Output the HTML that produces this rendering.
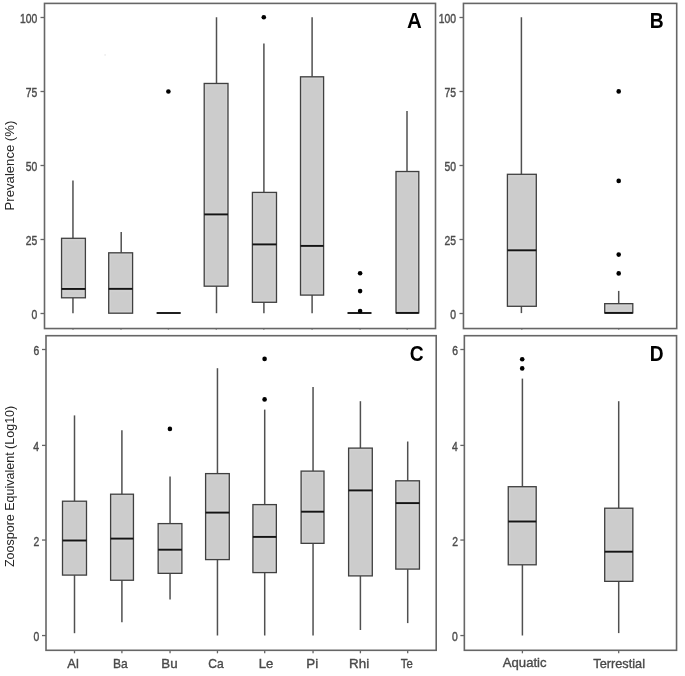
<!DOCTYPE html>
<html><head><meta charset="utf-8"><style>
html,body{margin:0;padding:0;background:#fff;width:685px;height:676px;overflow:hidden}
svg{display:block;will-change:transform}
</style></head><body>
<svg width="685" height="676" viewBox="0 0 685 676">
<style>
text{font-family:"Liberation Sans",sans-serif}
.pb{fill:none;stroke:#666666;stroke-width:1.6}
.tk{stroke:#666666;stroke-width:1.3}
.wk{stroke:#505050;stroke-width:1.5}
.bx{fill:none;stroke:#404040;stroke-width:1.3}
.md{stroke:#141414;stroke-width:1.9}
.pt{fill:#000}
.rg{fill:none;stroke:#d3d3d3;stroke-width:0.9}
.yl{fill:#4d4d4d;stroke:#4a4a4a;stroke-width:0.4px}
.xl{fill:#4d4d4d;stroke:#444;stroke-width:0.35px}
.ttl{fill:#262626}
.tag{font-weight:bold;fill:#000}
</style>
<rect width="685" height="676" fill="#fff"/>
<circle cx="105.1" cy="54.9" r="0.9" fill="#ececec"/>
<line x1="72.95" y1="180.40" x2="72.95" y2="238.30" class="wk"/>
<line x1="72.95" y1="297.80" x2="72.95" y2="313.20" class="wk"/>
<rect x="61.55" y="238.30" width="23.85" height="59.50" fill="#cccccc"/>
<rect x="63.15" y="239.90" width="20.65" height="56.30" class="rg"/>
<line x1="62.55" y1="286.85" x2="84.40" y2="286.85" class="rg"/>
<line x1="62.55" y1="291.05" x2="84.40" y2="291.05" class="rg"/>
<rect x="61.55" y="238.30" width="23.85" height="59.50" class="bx" fill="none"/>
<line x1="61.55" y1="288.95" x2="85.40" y2="288.95" class="md"/>
<line x1="121.20" y1="232.10" x2="121.20" y2="252.80" class="wk"/>
<rect x="108.70" y="252.80" width="23.90" height="60.40" fill="#cccccc"/>
<rect x="110.30" y="254.40" width="20.70" height="57.20" class="rg"/>
<line x1="109.70" y1="286.75" x2="131.60" y2="286.75" class="rg"/>
<line x1="109.70" y1="290.95" x2="131.60" y2="290.95" class="rg"/>
<rect x="108.70" y="252.80" width="23.90" height="60.40" class="bx" fill="none"/>
<line x1="108.70" y1="288.85" x2="132.60" y2="288.85" class="md"/>
<rect x="156.60" y="313.00" width="24.10" height="0.00" fill="#cccccc"/>
<rect x="156.60" y="313.00" width="24.10" height="0.00" class="bx" fill="none"/>
<line x1="156.60" y1="313.00" x2="180.70" y2="313.00" class="md"/>
<circle cx="168.40" cy="91.55" r="2.3" class="pt"/>
<line x1="216.50" y1="17.25" x2="216.50" y2="83.45" class="wk"/>
<line x1="216.50" y1="286.20" x2="216.50" y2="313.20" class="wk"/>
<rect x="204.20" y="83.45" width="23.80" height="202.75" fill="#cccccc"/>
<rect x="205.80" y="85.05" width="20.60" height="199.55" class="rg"/>
<line x1="205.20" y1="212.30" x2="227.00" y2="212.30" class="rg"/>
<line x1="205.20" y1="216.50" x2="227.00" y2="216.50" class="rg"/>
<rect x="204.20" y="83.45" width="23.80" height="202.75" class="bx" fill="none"/>
<line x1="204.20" y1="214.40" x2="228.00" y2="214.40" class="md"/>
<line x1="263.90" y1="43.60" x2="263.90" y2="192.40" class="wk"/>
<line x1="263.90" y1="302.30" x2="263.90" y2="313.20" class="wk"/>
<rect x="252.40" y="192.40" width="24.10" height="109.90" fill="#cccccc"/>
<rect x="254.00" y="194.00" width="20.90" height="106.70" class="rg"/>
<line x1="253.40" y1="242.30" x2="275.50" y2="242.30" class="rg"/>
<line x1="253.40" y1="246.50" x2="275.50" y2="246.50" class="rg"/>
<rect x="252.40" y="192.40" width="24.10" height="109.90" class="bx" fill="none"/>
<line x1="252.40" y1="244.40" x2="276.50" y2="244.40" class="md"/>
<circle cx="263.80" cy="17.30" r="2.3" class="pt"/>
<line x1="312.10" y1="17.25" x2="312.10" y2="76.80" class="wk"/>
<line x1="312.10" y1="295.10" x2="312.10" y2="313.20" class="wk"/>
<rect x="300.50" y="76.80" width="23.10" height="218.30" fill="#cccccc"/>
<rect x="302.10" y="78.40" width="19.90" height="215.10" class="rg"/>
<line x1="301.50" y1="243.80" x2="322.60" y2="243.80" class="rg"/>
<line x1="301.50" y1="248.00" x2="322.60" y2="248.00" class="rg"/>
<rect x="300.50" y="76.80" width="23.10" height="218.30" class="bx" fill="none"/>
<line x1="300.50" y1="245.90" x2="323.60" y2="245.90" class="md"/>
<rect x="347.50" y="313.00" width="24.00" height="0.00" fill="#cccccc"/>
<rect x="347.50" y="313.00" width="24.00" height="0.00" class="bx" fill="none"/>
<line x1="347.50" y1="313.00" x2="371.50" y2="313.00" class="md"/>
<circle cx="360.10" cy="273.30" r="2.3" class="pt"/>
<circle cx="360.10" cy="291.10" r="2.3" class="pt"/>
<circle cx="360.10" cy="311.10" r="2.3" class="pt"/>
<line x1="407.00" y1="110.90" x2="407.00" y2="171.50" class="wk"/>
<rect x="396.00" y="171.50" width="22.80" height="141.40" fill="#cccccc"/>
<rect x="397.60" y="173.10" width="19.60" height="138.20" class="rg"/>
<line x1="397.00" y1="310.80" x2="417.80" y2="310.80" class="rg"/>
<rect x="396.00" y="171.50" width="22.80" height="141.40" class="bx" fill="none"/>
<line x1="396.00" y1="312.90" x2="418.80" y2="312.90" class="md"/>
<line x1="521.40" y1="17.25" x2="521.40" y2="174.30" class="wk"/>
<line x1="521.40" y1="306.30" x2="521.40" y2="313.10" class="wk"/>
<rect x="507.40" y="174.30" width="28.90" height="132.00" fill="#cccccc"/>
<rect x="509.00" y="175.90" width="25.70" height="128.80" class="rg"/>
<line x1="508.40" y1="248.20" x2="535.30" y2="248.20" class="rg"/>
<line x1="508.40" y1="252.40" x2="535.30" y2="252.40" class="rg"/>
<rect x="507.40" y="174.30" width="28.90" height="132.00" class="bx" fill="none"/>
<line x1="507.40" y1="250.30" x2="536.30" y2="250.30" class="md"/>
<line x1="618.70" y1="290.90" x2="618.70" y2="303.65" class="wk"/>
<rect x="604.70" y="303.65" width="28.10" height="9.25" fill="#cccccc"/>
<rect x="606.30" y="305.25" width="24.90" height="6.05" class="rg"/>
<line x1="605.70" y1="310.80" x2="631.80" y2="310.80" class="rg"/>
<rect x="604.70" y="303.65" width="28.10" height="9.25" class="bx" fill="none"/>
<line x1="604.70" y1="312.90" x2="632.80" y2="312.90" class="md"/>
<circle cx="618.70" cy="91.40" r="2.3" class="pt"/>
<circle cx="618.70" cy="180.90" r="2.3" class="pt"/>
<circle cx="618.70" cy="254.60" r="2.3" class="pt"/>
<circle cx="618.70" cy="273.40" r="2.3" class="pt"/>
<line x1="74.50" y1="415.40" x2="74.50" y2="501.20" class="wk"/>
<line x1="74.50" y1="575.10" x2="74.50" y2="633.20" class="wk"/>
<rect x="62.50" y="501.20" width="24.00" height="73.90" fill="#cccccc"/>
<rect x="64.10" y="502.80" width="20.80" height="70.70" class="rg"/>
<line x1="63.50" y1="538.40" x2="85.50" y2="538.40" class="rg"/>
<line x1="63.50" y1="542.60" x2="85.50" y2="542.60" class="rg"/>
<rect x="62.50" y="501.20" width="24.00" height="73.90" class="bx" fill="none"/>
<line x1="62.50" y1="540.50" x2="86.50" y2="540.50" class="md"/>
<line x1="121.90" y1="430.30" x2="121.90" y2="494.20" class="wk"/>
<line x1="121.90" y1="580.25" x2="121.90" y2="622.20" class="wk"/>
<rect x="110.60" y="494.20" width="22.85" height="86.05" fill="#cccccc"/>
<rect x="112.20" y="495.80" width="19.65" height="82.85" class="rg"/>
<line x1="111.60" y1="536.50" x2="132.45" y2="536.50" class="rg"/>
<line x1="111.60" y1="540.70" x2="132.45" y2="540.70" class="rg"/>
<rect x="110.60" y="494.20" width="22.85" height="86.05" class="bx" fill="none"/>
<line x1="110.60" y1="538.60" x2="133.45" y2="538.60" class="md"/>
<line x1="170.05" y1="476.60" x2="170.05" y2="523.60" class="wk"/>
<line x1="170.05" y1="573.35" x2="170.05" y2="599.60" class="wk"/>
<rect x="158.15" y="523.60" width="23.75" height="49.75" fill="#cccccc"/>
<rect x="159.75" y="525.20" width="20.55" height="46.55" class="rg"/>
<line x1="159.15" y1="547.60" x2="180.90" y2="547.60" class="rg"/>
<line x1="159.15" y1="551.80" x2="180.90" y2="551.80" class="rg"/>
<rect x="158.15" y="523.60" width="23.75" height="49.75" class="bx" fill="none"/>
<line x1="158.15" y1="549.70" x2="181.90" y2="549.70" class="md"/>
<circle cx="169.90" cy="428.90" r="2.3" class="pt"/>
<line x1="217.45" y1="368.20" x2="217.45" y2="473.60" class="wk"/>
<line x1="217.45" y1="559.60" x2="217.45" y2="635.50" class="wk"/>
<rect x="205.60" y="473.60" width="23.70" height="86.00" fill="#cccccc"/>
<rect x="207.20" y="475.20" width="20.50" height="82.80" class="rg"/>
<line x1="206.60" y1="510.50" x2="228.30" y2="510.50" class="rg"/>
<line x1="206.60" y1="514.70" x2="228.30" y2="514.70" class="rg"/>
<rect x="205.60" y="473.60" width="23.70" height="86.00" class="bx" fill="none"/>
<line x1="205.60" y1="512.60" x2="229.30" y2="512.60" class="md"/>
<line x1="264.70" y1="409.60" x2="264.70" y2="504.60" class="wk"/>
<line x1="264.70" y1="572.60" x2="264.70" y2="635.50" class="wk"/>
<rect x="252.90" y="504.60" width="23.45" height="68.00" fill="#cccccc"/>
<rect x="254.50" y="506.20" width="20.25" height="64.80" class="rg"/>
<line x1="253.90" y1="534.80" x2="275.35" y2="534.80" class="rg"/>
<line x1="253.90" y1="539.00" x2="275.35" y2="539.00" class="rg"/>
<rect x="252.90" y="504.60" width="23.45" height="68.00" class="bx" fill="none"/>
<line x1="252.90" y1="536.90" x2="276.35" y2="536.90" class="md"/>
<circle cx="264.60" cy="358.90" r="2.3" class="pt"/>
<circle cx="264.60" cy="399.40" r="2.3" class="pt"/>
<line x1="313.05" y1="387.10" x2="313.05" y2="471.10" class="wk"/>
<line x1="313.05" y1="543.35" x2="313.05" y2="635.50" class="wk"/>
<rect x="301.10" y="471.10" width="22.90" height="72.25" fill="#cccccc"/>
<rect x="302.70" y="472.70" width="19.70" height="69.05" class="rg"/>
<line x1="302.10" y1="509.60" x2="323.00" y2="509.60" class="rg"/>
<line x1="302.10" y1="513.80" x2="323.00" y2="513.80" class="rg"/>
<rect x="301.10" y="471.10" width="22.90" height="72.25" class="bx" fill="none"/>
<line x1="301.10" y1="511.70" x2="324.00" y2="511.70" class="md"/>
<line x1="360.40" y1="401.20" x2="360.40" y2="448.10" class="wk"/>
<line x1="360.40" y1="575.90" x2="360.40" y2="630.00" class="wk"/>
<rect x="348.60" y="448.10" width="23.70" height="127.80" fill="#cccccc"/>
<rect x="350.20" y="449.70" width="20.50" height="124.60" class="rg"/>
<line x1="349.60" y1="488.30" x2="371.30" y2="488.30" class="rg"/>
<line x1="349.60" y1="492.50" x2="371.30" y2="492.50" class="rg"/>
<rect x="348.60" y="448.10" width="23.70" height="127.80" class="bx" fill="none"/>
<line x1="348.60" y1="490.40" x2="372.30" y2="490.40" class="md"/>
<line x1="407.70" y1="441.50" x2="407.70" y2="480.80" class="wk"/>
<line x1="407.70" y1="569.10" x2="407.70" y2="623.10" class="wk"/>
<rect x="395.80" y="480.80" width="23.65" height="88.30" fill="#cccccc"/>
<rect x="397.40" y="482.40" width="20.45" height="85.10" class="rg"/>
<line x1="396.80" y1="501.00" x2="418.45" y2="501.00" class="rg"/>
<line x1="396.80" y1="505.20" x2="418.45" y2="505.20" class="rg"/>
<rect x="395.80" y="480.80" width="23.65" height="88.30" class="bx" fill="none"/>
<line x1="395.80" y1="503.10" x2="419.45" y2="503.10" class="md"/>
<line x1="522.40" y1="378.60" x2="522.40" y2="486.70" class="wk"/>
<line x1="522.40" y1="564.80" x2="522.40" y2="635.50" class="wk"/>
<rect x="508.25" y="486.70" width="27.95" height="78.10" fill="#cccccc"/>
<rect x="509.85" y="488.30" width="24.75" height="74.90" class="rg"/>
<line x1="509.25" y1="519.40" x2="535.20" y2="519.40" class="rg"/>
<line x1="509.25" y1="523.60" x2="535.20" y2="523.60" class="rg"/>
<rect x="508.25" y="486.70" width="27.95" height="78.10" class="bx" fill="none"/>
<line x1="508.25" y1="521.50" x2="536.20" y2="521.50" class="md"/>
<circle cx="522.20" cy="359.20" r="2.3" class="pt"/>
<circle cx="522.20" cy="368.40" r="2.3" class="pt"/>
<line x1="618.70" y1="401.20" x2="618.70" y2="508.20" class="wk"/>
<line x1="618.70" y1="581.35" x2="618.70" y2="633.10" class="wk"/>
<rect x="604.70" y="508.20" width="28.15" height="73.15" fill="#cccccc"/>
<rect x="606.30" y="509.80" width="24.95" height="69.95" class="rg"/>
<line x1="605.70" y1="549.60" x2="631.85" y2="549.60" class="rg"/>
<line x1="605.70" y1="553.80" x2="631.85" y2="553.80" class="rg"/>
<rect x="604.70" y="508.20" width="28.15" height="73.15" class="bx" fill="none"/>
<line x1="604.70" y1="551.70" x2="632.85" y2="551.70" class="md"/>
<rect x="44.5" y="3.4" width="391.00" height="325.15" class="pb"/>
<rect x="463.45" y="3.4" width="213.25" height="325.15" class="pb"/>
<rect x="46.0" y="335.7" width="390.20" height="314.60" class="pb"/>
<rect x="464.35" y="335.7" width="212.20" height="314.60" class="pb"/>
<line x1="40.50" y1="313.50" x2="44.50" y2="313.50" class="tk"/>
<text class="yl" font-size="12.4" transform="translate(31.53,319.37) scale(0.8370,1)">0</text>
<line x1="40.50" y1="239.50" x2="44.50" y2="239.50" class="tk"/>
<text class="yl" font-size="12.4" transform="translate(25.79,245.37) scale(0.8370,1)">25</text>
<line x1="40.50" y1="165.50" x2="44.50" y2="165.50" class="tk"/>
<text class="yl" font-size="12.4" transform="translate(25.76,171.37) scale(0.8370,1)">50</text>
<line x1="40.50" y1="91.50" x2="44.50" y2="91.50" class="tk"/>
<text class="yl" font-size="12.4" transform="translate(25.79,97.30) scale(0.8370,1)">75</text>
<line x1="40.50" y1="17.50" x2="44.50" y2="17.50" class="tk"/>
<text class="yl" font-size="12.4" transform="translate(19.99,23.37) scale(0.8370,1)">100</text>
<line x1="459.45" y1="313.50" x2="463.45" y2="313.50" class="tk"/>
<text class="yl" font-size="12.4" transform="translate(450.23,319.37) scale(0.8370,1)">0</text>
<line x1="459.45" y1="239.50" x2="463.45" y2="239.50" class="tk"/>
<text class="yl" font-size="12.4" transform="translate(444.49,245.37) scale(0.8370,1)">25</text>
<line x1="459.45" y1="165.50" x2="463.45" y2="165.50" class="tk"/>
<text class="yl" font-size="12.4" transform="translate(444.46,171.37) scale(0.8370,1)">50</text>
<line x1="459.45" y1="91.50" x2="463.45" y2="91.50" class="tk"/>
<text class="yl" font-size="12.4" transform="translate(444.49,97.30) scale(0.8370,1)">75</text>
<line x1="459.45" y1="17.50" x2="463.45" y2="17.50" class="tk"/>
<text class="yl" font-size="12.4" transform="translate(438.69,23.37) scale(0.8370,1)">100</text>
<line x1="42.00" y1="635.55" x2="46.00" y2="635.55" class="tk"/>
<text class="yl" font-size="12.4" transform="translate(33.38,641.42) scale(0.8370,1)">0</text>
<line x1="42.00" y1="540.05" x2="46.00" y2="540.05" class="tk"/>
<text class="yl" font-size="12.4" transform="translate(33.50,545.98) scale(0.8370,1)">2</text>
<line x1="42.00" y1="445.40" x2="46.00" y2="445.40" class="tk"/>
<text class="yl" font-size="12.4" transform="translate(33.28,451.27) scale(0.8370,1)">4</text>
<line x1="42.00" y1="349.50" x2="46.00" y2="349.50" class="tk"/>
<text class="yl" font-size="12.4" transform="translate(33.43,355.37) scale(0.8370,1)">6</text>
<line x1="460.35" y1="635.55" x2="464.35" y2="635.55" class="tk"/>
<text class="yl" font-size="12.4" transform="translate(452.08,641.42) scale(0.8370,1)">0</text>
<line x1="460.35" y1="540.05" x2="464.35" y2="540.05" class="tk"/>
<text class="yl" font-size="12.4" transform="translate(452.20,545.98) scale(0.8370,1)">2</text>
<line x1="460.35" y1="445.40" x2="464.35" y2="445.40" class="tk"/>
<text class="yl" font-size="12.4" transform="translate(451.98,451.27) scale(0.8370,1)">4</text>
<line x1="460.35" y1="349.50" x2="464.35" y2="349.50" class="tk"/>
<text class="yl" font-size="12.4" transform="translate(452.13,355.37) scale(0.8370,1)">6</text>
<line x1="74.50" y1="650.30" x2="74.50" y2="653.30" class="tk"/>
<line x1="121.90" y1="650.30" x2="121.90" y2="653.30" class="tk"/>
<line x1="170.05" y1="650.30" x2="170.05" y2="653.30" class="tk"/>
<line x1="217.45" y1="650.30" x2="217.45" y2="653.30" class="tk"/>
<line x1="264.70" y1="650.30" x2="264.70" y2="653.30" class="tk"/>
<line x1="313.05" y1="650.30" x2="313.05" y2="653.30" class="tk"/>
<line x1="360.40" y1="650.30" x2="360.40" y2="653.30" class="tk"/>
<line x1="407.70" y1="650.30" x2="407.70" y2="653.30" class="tk"/>
<line x1="73.00" y1="328.6" x2="73.00" y2="329.9" class="tk" style="stroke-opacity:0.6"/>
<line x1="121.00" y1="328.6" x2="121.00" y2="329.9" class="tk" style="stroke-opacity:0.6"/>
<line x1="168.40" y1="328.6" x2="168.40" y2="329.9" class="tk" style="stroke-opacity:0.6"/>
<line x1="216.30" y1="328.6" x2="216.30" y2="329.9" class="tk" style="stroke-opacity:0.6"/>
<line x1="263.80" y1="328.6" x2="263.80" y2="329.9" class="tk" style="stroke-opacity:0.6"/>
<line x1="312.10" y1="328.6" x2="312.10" y2="329.9" class="tk" style="stroke-opacity:0.6"/>
<line x1="360.10" y1="328.6" x2="360.10" y2="329.9" class="tk" style="stroke-opacity:0.6"/>
<line x1="407.20" y1="328.6" x2="407.20" y2="329.9" class="tk" style="stroke-opacity:0.6"/>
<line x1="521.80" y1="328.6" x2="521.80" y2="329.9" class="tk" style="stroke-opacity:0.6"/>
<line x1="618.70" y1="328.6" x2="618.70" y2="329.9" class="tk" style="stroke-opacity:0.6"/>
<line x1="522.40" y1="650.30" x2="522.40" y2="653.30" class="tk"/>
<line x1="618.70" y1="650.30" x2="618.70" y2="653.30" class="tk"/>
<text class="xl" font-size="13" transform="translate(67.32,668.26) scale(0.9940,1)">Al</text>
<text class="xl" font-size="13" transform="translate(113.06,667.96) scale(0.9303,1)">Ba</text>
<text class="xl" font-size="13" transform="translate(161.36,667.96) scale(1.0235,1)">Bu</text>
<text class="xl" font-size="13" transform="translate(208.23,668.03) scale(0.9337,1)">Ca</text>
<text class="xl" font-size="13" transform="translate(258.68,667.96) scale(1.0066,1)">Le</text>
<text class="xl" font-size="13" transform="translate(306.25,668.26) scale(1.0295,1)">Pi</text>
<text class="xl" font-size="13" transform="translate(349.05,668.26) scale(1.0305,1)">Rhi</text>
<text class="xl" font-size="13" transform="translate(400.86,667.96) scale(0.8685,1)">Te</text>
<text class="xl" font-size="13" transform="translate(502.82,666.91) scale(1.0095,1)">Aquatic</text>
<text class="xl" font-size="13" transform="translate(593.36,668.20) scale(0.9808,1)">Terrestial</text>
<text class="ttl" font-size="13" transform="translate(14.35,210.38) rotate(-90) scale(1.0104,1)">Prevalence (%)</text>
<text class="ttl" font-size="13" transform="translate(13.60,567.05) rotate(-90) scale(0.9625,1)">Zoospore Equivalent (Log10)</text>
<text class="tag" font-size="21.3" transform="translate(407.04,27.78) scale(0.9622,1)">A</text>
<text class="tag" font-size="21.3" transform="translate(649.81,27.78) scale(0.9045,1)">B</text>
<text class="tag" font-size="21.3" transform="translate(409.66,360.73) scale(0.9048,1)">C</text>
<text class="tag" font-size="21.3" transform="translate(649.82,360.53) scale(0.8995,1)">D</text>
</svg>
</body></html>
